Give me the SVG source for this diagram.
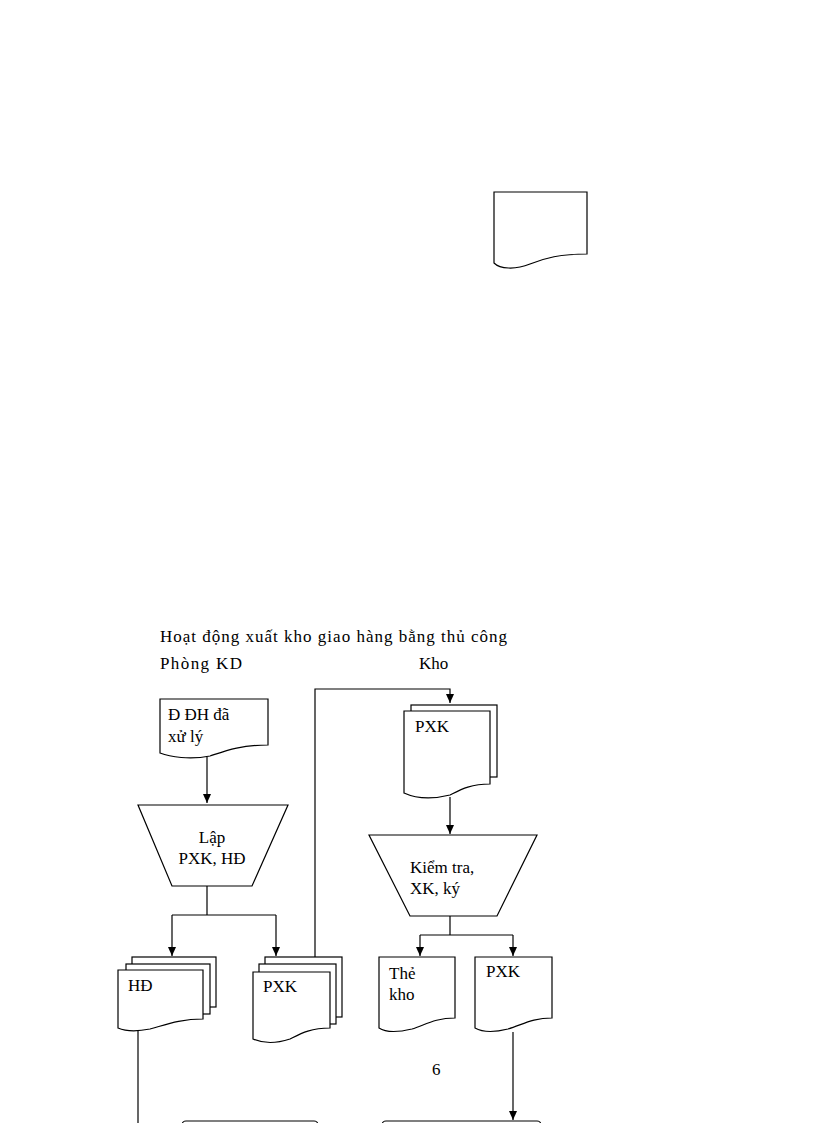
<svg xmlns="http://www.w3.org/2000/svg" width="816" height="1123" viewBox="0 0 816 1123">
<style>
.s{fill:#fff;stroke:#000;stroke-width:1.2}
.l{fill:none;stroke:#000;stroke-width:1.2}
text{font-family:"Liberation Serif",serif;font-size:17px;fill:#000}
</style>
<defs><marker id="a" markerWidth="10" markerHeight="10" refX="9" refY="5" orient="auto" markerUnits="userSpaceOnUse"><path d="M0,1 L9,5 L0,9Z" fill="#000"/></marker></defs>
<rect width="816" height="1123" fill="#fff"/>
<g id="topdoc"><path class="s" d="M494,192 H587 V254 C560,254 545,258 530,264 C515,270 500,269 494,263 Z"/></g>
<text x="160" y="642" textLength="347" lengthAdjust="spacing">Hoạt động xuất kho giao hàng bằng thủ công</text>
<text x="160" y="669" textLength="82" lengthAdjust="spacing">Phòng KD</text>
<text x="419" y="669">Kho</text>
<g id="connectors">
<path class="l" d="M207,757 V803" marker-end="url(#a)"/>
<path class="l" d="M207,886 V915 M172,915 H276"/>
<path class="l" d="M172,915 V956" marker-end="url(#a)"/>
<path class="l" d="M276,915 V956" marker-end="url(#a)"/>
<path class="l" d="M315,964 V689 H450 V703" marker-end="url(#a)"/>
<path class="l" d="M450,797 V834" marker-end="url(#a)"/>
<path class="l" d="M450,916 V935 M420,935 H513"/>
<path class="l" d="M420,935 V956" marker-end="url(#a)"/>
<path class="l" d="M513,935 V956" marker-end="url(#a)"/>
<path class="l" d="M138,1031 V1123"/>
<path class="l" d="M513,1032 V1120" marker-end="url(#a)"/>
</g>
<g id="ddh"><path class="s" d="M160,699 H268 V745 C240,745 225,751 210,756 C190,760 170,757 160,753 Z"/>
<text x="168" y="720">Đ ĐH đã</text><text x="168" y="742">xử lý</text></g>
<g id="lap"><path class="s" d="M138,805 H288 L252,886 H172 Z"/>
<text x="212" y="843" text-anchor="middle">Lập</text><text x="212" y="864" text-anchor="middle">PXK, HĐ</text></g>
<g id="pxk-kho"><rect class="s" x="411" y="705" width="86" height="72"/>
<path class="s" d="M404,711 H490 V784 C470,784 460,790 450,795 C430,800 415,798 404,793 Z"/>
<text x="415" y="732">PXK</text></g>
<g id="kiemtra"><path class="s" d="M369,835 H537 L497,916 H410 Z"/>
<text x="410" y="873">Kiểm  tra,</text><text x="410" y="894">XK, ký</text></g>
<g id="hd"><rect class="s" x="132" y="957" width="84" height="50"/><rect class="s" x="126" y="964" width="84" height="50"/>
<path class="s" d="M118,970 H203 V1019 C180,1019 165,1025 150,1029 C135,1032 125,1031 118,1028 Z"/>
<text x="128" y="991">HĐ</text></g>
<g id="pxk-kd"><rect class="s" x="265" y="957" width="77" height="60"/><rect class="s" x="259" y="964" width="77" height="60"/>
<path class="s" d="M253,972 H330 V1028 C310,1028 300,1034 290,1039 C275,1044 262,1043 253,1039 Z"/>
<text x="263" y="992">PXK</text></g>
<g id="thekho"><path class="s" d="M379,957 H455 V1018 C435,1018 425,1025 412,1029 C395,1033 385,1032 379,1028 Z"/>
<text x="389" y="979">Thẻ</text><text x="389" y="1000">kho</text></g>
<g id="pxk2"><path class="s" d="M475,957 H552 V1018 C532,1018 522,1025 508,1029 C492,1033 482,1032 475,1028 Z"/>
<text x="486" y="977">PXK</text></g>
<text x="432" y="1075">6</text>
<g id="box1"><rect class="s" x="182" y="1121" width="136" height="20" rx="4"/></g>
<g id="box2"><rect class="s" x="382" y="1121" width="159" height="20" rx="4"/></g>
</svg>
